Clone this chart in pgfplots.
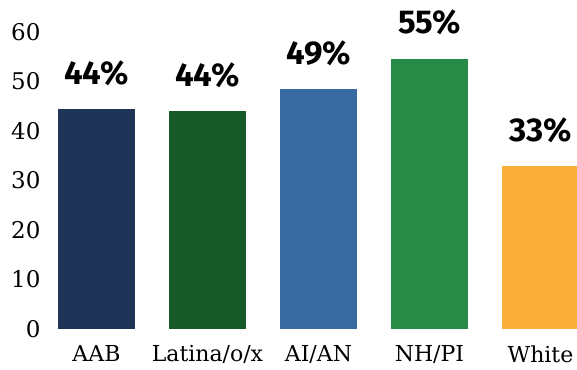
\documentclass[border=0pt]{standalone}
\usepackage{fontspec}
\setmainfont{DejaVu Serif}
\newfontfamily\labelfont{Fira Sans}
\usepackage{pgfplots}
\pgfplotsset{compat=1.18}
\definecolor{cAAB}{HTML}{1E3557}
\definecolor{cLat}{HTML}{165A28}
\definecolor{cAI}{HTML}{376BA1}
\definecolor{cNH}{HTML}{288A47}
\definecolor{cWh}{HTML}{FBB03C}
\begin{document}
\begin{tikzpicture}
\begin{axis}[
  scale only axis,
  x=111pt, y=4.95pt,
  xmin=-0.437, xmax=4.33,
  ymin=0, ymax=60,
  axis line style={draw=none},
  tick style={draw=none},
  ytick={0,10,...,60},
  xtick={0,1,2,3,4},
  xticklabels={AAB,Latina/o/x,AI/AN,NH/PI,White},
  yticklabel style={font=\fontsize{23}{26}\selectfont, xshift=-4pt},
  xticklabel style={font=\fontsize{22}{25}\selectfont, yshift=-9pt},
  /pgf/number format/assume math mode=true,
  clip=false,
  bar width=77pt,
  ybar, bar shift=0pt,
  nodes near coords,
  every node near coord/.append style={font=\labelfont\bfseries\fontsize{33}{36}\selectfont, yshift=20pt},
]
\addplot[fill=cAAB, draw=none, nodes near coords={44\%}] coordinates {(0,44.4)};
\addplot[fill=cLat, draw=none, nodes near coords={44\%}] coordinates {(1,44.0)};
\addplot[fill=cAI, draw=none, nodes near coords={49\%}] coordinates {(2,48.5)};
\addplot[fill=cNH, draw=none, nodes near coords={55\%}] coordinates {(3,54.6)};
\addplot[fill=cWh, draw=none, nodes near coords={33\%}] coordinates {(4,32.9)};
\coordinate (bl) at (axis cs:-0.869,-8.28);
\coordinate (tr) at (axis cs:4.329,66.46);
\end{axis}
\pgfresetboundingbox
\useasboundingbox (bl) rectangle (tr);
\end{tikzpicture}
\end{document}
